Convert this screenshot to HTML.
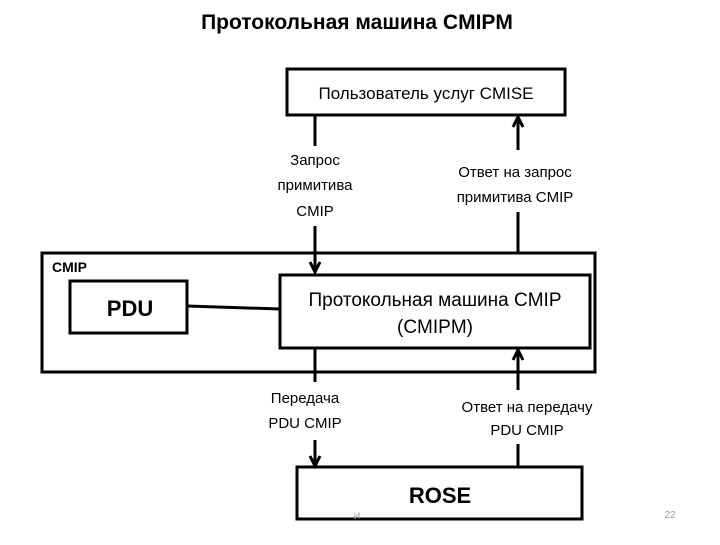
<!DOCTYPE html>
<html><head><meta charset="utf-8"><style>
body{margin:0;background:#fff;}
svg text{font-family:"Liberation Sans","DejaVu Sans",sans-serif;}
</style></head><body>
<svg width="720" height="540" xmlns="http://www.w3.org/2000/svg">
<text x="357" y="29" font-size="21" font-weight="bold" text-anchor="middle">Протокольная машина CMIPM</text>
<rect x="287" y="69" width="278" height="46" fill="none" stroke="#000" stroke-width="3"/>
<text x="426" y="99" font-size="17" text-anchor="middle">Пользователь услуг CMISE</text>
<g stroke="#000" stroke-width="3" fill="none">
<line x1="315" y1="116" x2="315" y2="146"/>
<line x1="315" y1="226" x2="315" y2="272"/>
<path d="M310,262 L315,272 L320,262"/>
<line x1="518" y1="118" x2="518" y2="150"/>
<line x1="518" y1="212" x2="518" y2="253"/>
<path d="M513,127 L518,117 L523,127"/>
<line x1="315" y1="348" x2="315" y2="382"/>
<line x1="315" y1="440" x2="315" y2="466"/>
<path d="M310,456 L315,466 L320,456"/>
<line x1="518" y1="350" x2="518" y2="390"/>
<line x1="518" y1="444" x2="518" y2="467"/>
<path d="M513,360 L518,350 L523,360"/>
</g>
<g font-size="15" text-anchor="middle">
<text x="315" y="165">Запрос</text><text x="315" y="190">примитива</text><text x="315" y="216">CMIP</text>
<text x="515" y="177">Ответ на запрос</text><text x="515" y="202">примитива CMIP</text>
<text x="305" y="403">Передача</text><text x="305" y="428">PDU CMIP</text>
<text x="527" y="412">Ответ на передачу</text><text x="527" y="435">PDU CMIP</text>
</g>
<rect x="42" y="253" width="553" height="119" fill="none" stroke="#000" stroke-width="3"/>
<text x="52" y="272" font-size="14" font-weight="bold">CMIP</text>
<rect x="70" y="281" width="117" height="52" fill="#fff" stroke="#000" stroke-width="3"/>
<text x="130" y="316" font-size="22" font-weight="bold" text-anchor="middle">PDU</text>
<line x1="187" y1="306" x2="280" y2="309" stroke="#000" stroke-width="3"/>
<rect x="280" y="275" width="310" height="73" fill="#fff" stroke="#000" stroke-width="3"/>
<text x="435" y="306" font-size="19" text-anchor="middle">Протокольная машина CMIP</text>
<text x="435" y="333" font-size="19" text-anchor="middle">(CMIPM)</text>
<rect x="297" y="467" width="285" height="52" fill="none" stroke="#000" stroke-width="3"/>
<text x="440" y="503" font-size="22" font-weight="bold" text-anchor="middle">ROSE</text>
<text x="357" y="519" font-size="9" fill="#999" text-anchor="middle">И</text>
<text x="670" y="518" font-size="10" fill="#999" text-anchor="middle">22</text>
</svg>
</body></html>
